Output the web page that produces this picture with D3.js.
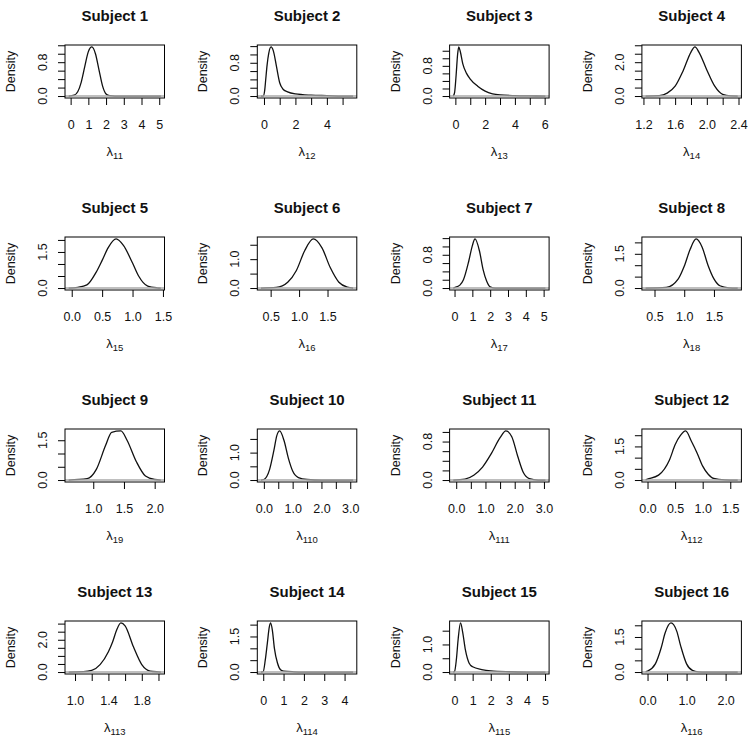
<!DOCTYPE html>
<html>
<head>
<meta charset="utf-8">
<script src="https://cdn.jsdelivr.net/npm/d3@7"></script>
<style>
    body { margin: 0; background: #fff; }
    svg { display: block; font-family: "Liberation Sans", Arial, sans-serif; }
</style>
</head>
<body>
<svg id="vis" width="750" height="741"></svg>
<script>
// panel titles and x-label subscripts
const titles = ["Subject 1", "Subject 2", "Subject 3", "Subject 4",
    "Subject 5", "Subject 6", "Subject 7", "Subject 8",
    "Subject 9", "Subject 10", "Subject 11", "Subject 12",
    "Subject 13", "Subject 14", "Subject 15", "Subject 16"];
const subs = ["11", "12", "13", "14", "15", "16", "17", "18",
    "19", "110", "111", "112", "113", "114", "115", "116"];

// data range of each density (x) and its peak (y)
const xRanges = [[-0.11, 5.09], [-0.19, 5.67], [-0.14, 6.05], [1.227, 2.39],
    [-0.05, 1.465], [0.33, 1.95], [-0.07, 5.1], [0.35, 1.9],
    [0.6, 2.1], [-0.1, 3.1], [-0.1, 3.05], [-0.035, 1.635],
    [0.924, 2.028], [-0.11, 4.42], [-0.07, 5.02], [-0.05, 2.31]];
const yMaxes = [1.16, 1.18, 1.30, 2.9, 2.04, 1.7, 1.18, 2.15,
    1.85, 1.79, 1.02, 2.19, 3.04, 2.07, 1.78, 2.1];

// tick positions and the ones that carry a label
const xTicks = [[0, 1, 2, 3, 4, 5], [0, 1, 2, 3, 4, 5], [0, 1, 2, 3, 4, 5, 6], [1.2, 1.4, 1.6, 1.8, 2.0, 2.2, 2.4],
    [0, 0.5, 1.0, 1.5], [0.5, 1.0, 1.5], [0, 1, 2, 3, 4, 5], [0.5, 1.0, 1.5],
    [1.0, 1.5, 2.0], [0, 0.5, 1.0, 1.5, 2.0, 2.5, 3.0], [0, 0.5, 1.0, 1.5, 2.0, 2.5, 3.0], [0, 0.5, 1.0, 1.5],
    [1.0, 1.2, 1.4, 1.6, 1.8, 2.0], [0, 1, 2, 3, 4], [0, 1, 2, 3, 4, 5], [0, 0.5, 1.0, 1.5, 2.0]];
const xLabels = [[0, 1, 2, 3, 4, 5], [0, 2, 4], [0, 2, 4, 6], [1.2, 1.6, 2.0, 2.4],
    [0, 0.5, 1.0, 1.5], [0.5, 1.0, 1.5], [0, 1, 2, 3, 4, 5], [0.5, 1.0, 1.5],
    [1.0, 1.5, 2.0], [0, 1.0, 2.0, 3.0], [0, 1.0, 2.0, 3.0], [0, 0.5, 1.0, 1.5],
    [1.0, 1.4, 1.8], [0, 1, 2, 3, 4], [0, 1, 2, 3, 4, 5], [0, 1.0, 2.0]];
const yTicks = [[0, 0.2, 0.4, 0.6, 0.8, 1.0, 1.2], [0, 0.2, 0.4, 0.6, 0.8, 1.0, 1.2],
    [0, 0.2, 0.4, 0.6, 0.8, 1.0, 1.2], [0, 0.5, 1.0, 1.5, 2.0, 2.5, 3.0],
    [0, 0.5, 1.0, 1.5, 2.0], [0, 0.5, 1.0, 1.5],
    [0, 0.2, 0.4, 0.6, 0.8, 1.0, 1.2], [0, 0.5, 1.0, 1.5, 2.0],
    [0, 0.5, 1.0, 1.5], [0, 0.5, 1.0, 1.5],
    [0, 0.2, 0.4, 0.6, 0.8, 1.0], [0, 0.5, 1.0, 1.5, 2.0],
    [0, 0.5, 1.0, 1.5, 2.0, 2.5, 3.0], [0, 0.5, 1.0, 1.5, 2.0],
    [0, 0.5, 1.0, 1.5], [0, 0.5, 1.0, 1.5, 2.0]];
const yLabels = [[0, 0.8], [0, 0.8], [0, 0.8], [0, 2.0],
    [0, 1.5], [0, 1.0], [0, 0.8], [0, 1.5],
    [0, 1.5], [0, 1.0], [0, 0.8], [0, 1.5],
    [0, 2.0], [0, 1.5], [0, 1.0], [0, 1.5]];

// density curves, [x, density]
const curves = [
    [[-0.11, 0], [0.2, 0.02], [0.4, 0.1], [0.6, 0.33], [0.8, 0.7], [1.0, 1.05], [1.2, 1.16], [1.4, 1.0], [1.6, 0.62], [1.8, 0.24], [2.0, 0.05], [2.2, 0.01], [2.5, 0], [5.09, 0]],
    [[-0.19, 0], [-0.05, 0], [0.05, 0.15], [0.1, 0.35], [0.2, 0.75], [0.3, 1.02], [0.45, 1.18], [0.6, 1.08], [0.8, 0.7], [1.0, 0.32], [1.2, 0.17], [1.5, 0.1], [2.0, 0.05], [3.0, 0.02], [4.0, 0.01], [5.0, 0], [5.67, 0]],
    [[-0.14, 0], [-0.05, 0.1], [0.05, 0.55], [0.15, 1.1], [0.23, 1.30], [0.33, 1.18], [0.5, 0.85], [0.75, 0.6], [1.0, 0.45], [1.5, 0.26], [2.0, 0.13], [2.5, 0.06], [3.0, 0.03], [4.0, 0.01], [5.0, 0.003], [6.05, 0]],
    [[1.227, 0], [1.4, 0.02], [1.5, 0.17], [1.6, 0.58], [1.7, 1.48], [1.8, 2.6], [1.85, 2.9], [1.9, 2.6], [2.0, 1.54], [2.1, 0.58], [2.2, 0.1], [2.3, 0.01], [2.39, 0]],
    [[-0.05, 0], [0.1, 0.03], [0.25, 0.13], [0.4, 0.65], [0.5, 1.15], [0.6, 1.68], [0.73, 2.04], [0.85, 1.77], [1.0, 1.04], [1.1, 0.5], [1.25, 0.08], [1.4, 0.01], [1.465, 0]],
    [[0.33, 0], [0.6, 0.02], [0.8, 0.2], [0.95, 0.6], [1.1, 1.3], [1.25, 1.7], [1.4, 1.4], [1.55, 0.7], [1.7, 0.2], [1.85, 0.03], [1.95, 0]],
    [[-0.07, 0], [0, 0.01], [0.3, 0.07], [0.5, 0.2], [0.8, 0.65], [1.0, 1.02], [1.15, 1.18], [1.4, 0.89], [1.6, 0.45], [1.8, 0.17], [2.0, 0.03], [2.3, 0], [5.1, 0]],
    [[0.35, 0], [0.7, 0.03], [0.9, 0.4], [1.0, 0.95], [1.1, 1.7], [1.2, 2.15], [1.3, 1.8], [1.4, 1.0], [1.5, 0.4], [1.6, 0.1], [1.75, 0.01], [1.9, 0]],
    [[0.6, 0], [0.9, 0.05], [1.05, 0.4], [1.2, 1.3], [1.3, 1.8], [1.45, 1.85], [1.55, 1.5], [1.7, 0.7], [1.85, 0.15], [2.0, 0.02], [2.1, 0]],
    [[-0.1, 0], [0, 0.02], [0.2, 0.39], [0.35, 1.09], [0.45, 1.62], [0.55, 1.79], [0.7, 1.44], [0.85, 0.8], [1.0, 0.33], [1.2, 0.09], [1.5, 0.02], [2.0, 0], [3.1, 0]],
    [[-0.1, 0], [0.3, 0.02], [0.6, 0.1], [0.9, 0.27], [1.2, 0.55], [1.5, 0.88], [1.7, 1.02], [1.9, 0.9], [2.1, 0.5], [2.3, 0.15], [2.5, 0.03], [2.8, 0], [3.05, 0]],
    [[-0.035, 0.01], [0, 0.04], [0.2, 0.22], [0.4, 0.91], [0.5, 1.57], [0.6, 2.0], [0.69, 2.19], [0.8, 1.71], [0.9, 1.2], [1.0, 0.62], [1.1, 0.26], [1.2, 0.07], [1.4, 0.01], [1.635, 0]],
    [[0.924, 0], [1.1, 0.02], [1.2, 0.1], [1.3, 0.46], [1.4, 1.26], [1.45, 1.86], [1.5, 2.62], [1.55, 3.04], [1.6, 2.86], [1.7, 1.56], [1.8, 0.46], [1.9, 0.06], [2.0, 0.01], [2.028, 0]],
    [[-0.11, 0], [0, 0.02], [0.1, 0.5], [0.2, 1.2], [0.3, 1.9], [0.36, 2.07], [0.45, 1.76], [0.55, 1.0], [0.7, 0.38], [0.85, 0.1], [1.0, 0.04], [1.5, 0.01], [2.0, 0], [4.42, 0]],
    [[-0.07, 0], [0, 0.02], [0.1, 0.45], [0.2, 1.2], [0.33, 1.78], [0.45, 1.44], [0.6, 0.8], [0.8, 0.33], [1.0, 0.19], [1.5, 0.09], [2.0, 0.04], [3.0, 0.01], [4.0, 0], [5.02, 0]],
    [[-0.05, 0.01], [0, 0.04], [0.2, 0.35], [0.35, 1.04], [0.45, 1.67], [0.6, 2.1], [0.75, 1.74], [0.85, 1.11], [1.0, 0.35], [1.15, 0.07], [1.3, 0.01], [1.5, 0], [2.31, 0]]
];

const svg = d3.select('#vis');
const BOX_W = 99.5;
const BOX_H = 53;
const colLeft = [65, 257.3, 449.6, 641.9];
const rowTop = [45, 237, 429, 621];

titles.forEach(function (t, i) {
    drawPanel(i);
});

// one density plot, R style
function drawPanel(i) {
    var left = colLeft[i % 4];
    var top = rowTop[Math.floor(i / 4)];
    var bottom = top + BOX_H;
    var xr = xRanges[i];
    var pad = 0.04 * (xr[1] - xr[0]);

    var x = d3.scaleLinear()
        .domain([xr[0] - pad, xr[1] + pad])
        .range([left, left + BOX_W]);
    var y = d3.scaleLinear()
        .domain([-0.04 * yMaxes[i], 1.04 * yMaxes[i]])
        .range([bottom, top]);

    var g = svg.append("g").attr("class", "panel");

    var clipId = "clip" + i;
    g.append("clipPath").attr("id", clipId)
        .append("rect")
        .attr("x", left).attr("y", top)
        .attr("width", BOX_W).attr("height", BOX_H);

    // density line
    var line = d3.line()
        .x(function (d) { return x(d[0]); })
        .y(function (d) { return y(d[1]); })
        .curve(d3.curveMonotoneX);

    g.append("path")
        .datum(curves[i])
        .attr("clip-path", "url(#" + clipId + ")")
        .attr("d", line)
        .attr("fill", "none")
        .attr("stroke", "#111")
        .attr("stroke-width", 1.3);

    // zero line
    g.append("line")
        .attr("x1", left).attr("x2", left + BOX_W)
        .attr("y1", y(0)).attr("y2", y(0))
        .attr("stroke", "#aaa")
        .attr("stroke-width", 1.5);

    g.append("rect")
        .attr("x", left).attr("y", top)
        .attr("width", BOX_W).attr("height", BOX_H)
        .attr("fill", "none")
        .attr("stroke", "#000")
        .attr("stroke-width", 1);

    // x axis
    var allInt = xTicks[i].every(function (v) { return Number.isInteger(v); });
    var xf = allInt ? d3.format("d") : d3.format(".1f");
    var xa = g.append("g")
        .attr("transform", "translate(0," + bottom + ")")
        .call(d3.axisBottom(x)
            .tickValues(xTicks[i])
            .tickSize(7)
            .tickPadding(15)
            .tickFormat(function (v) {
                return xLabels[i].indexOf(v) >= 0 ? xf(v) : "";
            }));
    xa.select(".domain").remove();
    xa.selectAll("text")
        .attr("font-size", 12.5)
        .attr("font-family", "Liberation Sans, Arial, sans-serif")
        .attr("fill", "#111");

    // y axis
    var ya = g.append("g")
        .attr("transform", "translate(" + left + ",0)")
        .call(d3.axisLeft(y)
            .tickValues(yTicks[i])
            .tickSize(7)
            .tickFormat(""));
    ya.select(".domain").remove();

    var yf = d3.format(".1f");
    g.selectAll(".ylab")
        .data(yLabels[i])
        .enter().append("text")
        .attr("class", "ylab")
        .attr("transform", function (v) {
            return "translate(" + (left - 18) + "," + y(v) + ") rotate(-90)";
        })
        .attr("text-anchor", "middle")
        .attr("font-size", 12.5)
        .attr("fill", "#111")
        .text(yf);

    // labels
    g.append("text")
        .attr("x", left + BOX_W / 2)
        .attr("y", top - 24.5)
        .attr("text-anchor", "middle")
        .attr("font-size", 15)
        .attr("font-weight", "bold")
        .attr("fill", "#111")
        .text(titles[i]);

    g.append("text")
        .attr("transform", "translate(" + (left - 50) + "," + (top + BOX_H / 2) + ") rotate(-90)")
        .attr("text-anchor", "middle")
        .attr("font-size", 12.5)
        .attr("fill", "#111")
        .text("Density");

    var xl = g.append("text")
        .attr("x", left + BOX_W / 2)
        .attr("y", bottom + 58)
        .attr("text-anchor", "middle")
        .attr("fill", "#111")
        .attr("font-size", 13);
    xl.append("tspan").text("λ");
    xl.append("tspan")
        .attr("font-size", 9.5)
        .attr("dy", 3)
        .text(subs[i]);
}
</script>
</body>
</html>
